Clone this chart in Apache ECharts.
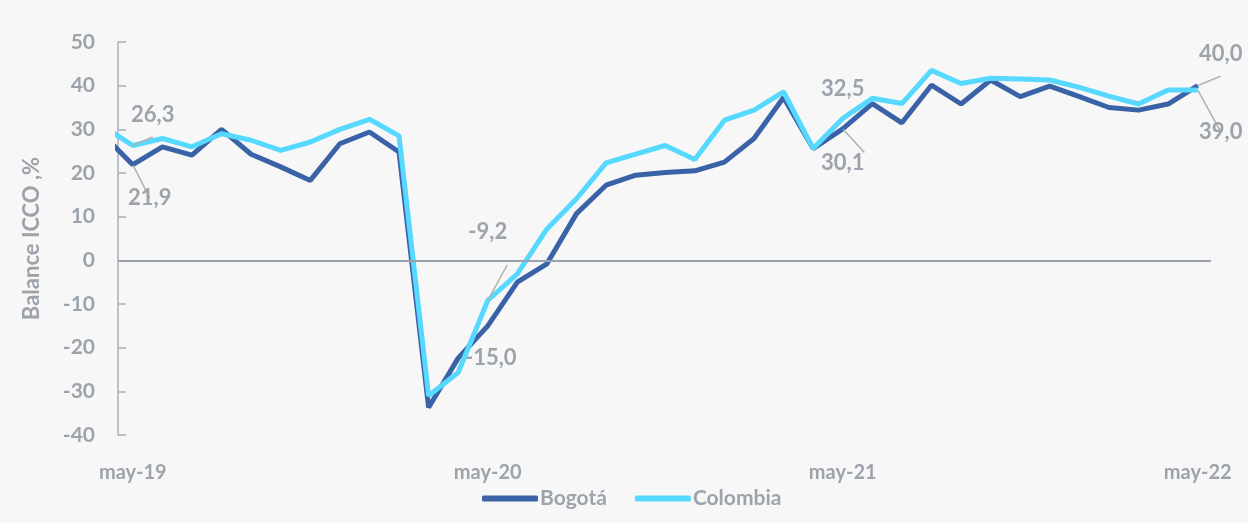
<!DOCTYPE html>
<html>
<head>
<meta charset="utf-8">
<script src="https://cdn.jsdelivr.net/npm/echarts@6/dist/echarts.min.js"></script>
<style>
  html, body { margin: 0; padding: 0; background: #f7f7f7; }
  #chart { width: 1248px; height: 523px; }
</style>
</head>
<body>
<div id="chart"></div>
<script>
// months from apr-19 to may-22 (apr-19 sits just left of the axis and gets clipped)
const months = ['abr-19','may-19','jun-19','jul-19','ago-19','sep-19','oct-19','nov-19','dic-19','ene-20','feb-20','mar-20',
  'abr-20','may-20','jun-20','jul-20','ago-20','sep-20','oct-20','nov-20','dic-20','ene-21','feb-21','mar-21',
  'abr-21','may-21','jun-21','jul-21','ago-21','sep-21','oct-21','nov-21','dic-21','ene-22','feb-22','mar-22',
  'abr-22','may-22']
const tickMonths = ['may-19', 'may-20', 'may-21', 'may-22']

const bogota = [28.7, 21.9, 26.0, 24.1, 30.0, 24.3, 21.4, 18.3, 26.7, 29.4, 24.8, -33.7,
  -22.4, -15.0, -5.0, -0.8, 10.7, 17.2, 19.5, 20.1, 20.5, 22.5, 27.9, 37.3,
  25.6, 30.1, 35.9, 31.5, 40.1, 35.8, 41.3, 37.5, 39.9, 37.5, 35.0, 34.4,
  35.8, 40.0]
const colombia = [30.7, 26.3, 27.9, 26.0, 29.0, 27.5, 25.2, 27.1, 30.0, 32.3, 28.5, -31.0,
  -25.7, -9.2, -3.1, 7.2, 14.1, 22.3, 24.3, 26.3, 23.1, 32.1, 34.4, 38.6,
  25.6, 32.5, 37.1, 35.9, 43.5, 40.5, 41.7, 41.5, 41.3, 39.6, 37.6, 35.8,
  39.0, 39.0]

// labelled points: month -> [position, dx, dy, leader line]
const bogotaLabels = {
  'may-19': ['bottom', 17, 17, true],
  'may-20': ['bottom', 3, 16, false],
  'may-21': ['bottom', 0, 18, true],
  'may-22': ['top', 23, -15, true]
}
const colombiaLabels = {
  'may-19': ['top', 20, -14, true],
  'may-20': ['top', 0, -52, true],
  'may-21': ['top', 0, -13, false],
  'may-22': ['bottom', 23, 25, true]
}

const grey = '#9ca3ab'
const font = 'Lato'

function fmt(v) {
  return v.toFixed(1).replace('.', ',')
}

function buildData(values, labels) {
  let out = []
  for (let i = 0; i < values.length; i++) {
    let item = { value: [i - 1, values[i]] }
    let l = labels[months[i]]
    if (l) {
      item.label = {
        show: true,
        position: l[0],
        offset: [l[1], l[2]],
        formatter: fmt(values[i]),
        color: grey,
        fontFamily: font,
        fontWeight: 'bold',
        fontSize: 22
      }
      item.labelLine = { show: l[3], lineStyle: { color: '#b0b0b0', width: 1.5 } }
    }
    out.push(item)
  }
  return out
}

let chart = echarts.init(document.getElementById('chart'))

chart.setOption({
  backgroundColor: '#f7f7f7',
  animation: false,
  grid: { left: 118, right: 37, top: 42, bottom: 88, containLabel: false },
  legend: {
    bottom: 9,
    left: 477,
    itemWidth: 56,
    itemHeight: 6,
    itemGap: 28,
    icon: 'roundRect',
    textStyle: { color: grey, fontFamily: font, fontWeight: 'bold', fontSize: 21, padding: [0, 0, 0, -3] },
    data: ['Bogotá', 'Colombia']
  },
  xAxis: {
    type: 'value',
    min: -0.5,
    max: 36.45,
    splitLine: { show: false },
    axisLine: { show: false },
    axisTick: { show: false },
    axisLabel: {
      customValues: [0, 12, 24, 36],
      formatter: v => tickMonths[Math.round(v / 12)],
      margin: 28,
      color: grey,
      fontFamily: font,
      fontWeight: 'bold',
      fontSize: 20
    }
  },
  yAxis: {
    type: 'value',
    min: -40,
    max: 50,
    interval: 10,
    name: 'Balance ICCO ,%',
    nameLocation: 'middle',
    nameGap: 75,
    nameTextStyle: { color: grey, fontFamily: font, fontWeight: 'bold', fontSize: 22 },
    splitLine: { show: false },
    axisLine: { show: true, onZero: false, lineStyle: { color: '#a9b0b8', width: 1.5 } },
    axisTick: { show: true, inside: true, length: 8, lineStyle: { color: '#a9b0b8', width: 1.5 } },
    axisLabel: { margin: 23, color: grey, fontFamily: font, fontWeight: 'bold', fontSize: 21 }
  },
  series: [
    {
      name: 'Bogotá',
      type: 'line',
      data: buildData(bogota, bogotaLabels),
      symbol: 'circle',
      symbolSize: 1,
      showSymbol: true,
      color: '#3a62a7',
      lineStyle: { width: 5, color: '#3a62a7' },
      z: 3,
      markLine: {
        silent: true,
        symbol: 'none',
        label: { show: false },
        lineStyle: { color: '#9aa3ad', width: 2, type: 'solid' },
        data: [{ yAxis: 0 }]
      }
    },
    {
      name: 'Colombia',
      type: 'line',
      data: buildData(colombia, colombiaLabels),
      symbol: 'circle',
      symbolSize: 1,
      showSymbol: true,
      color: '#57d8ff',
      lineStyle: { width: 5, color: '#57d8ff' },
      z: 4
    }
  ]
})
</script>
</body>
</html>
